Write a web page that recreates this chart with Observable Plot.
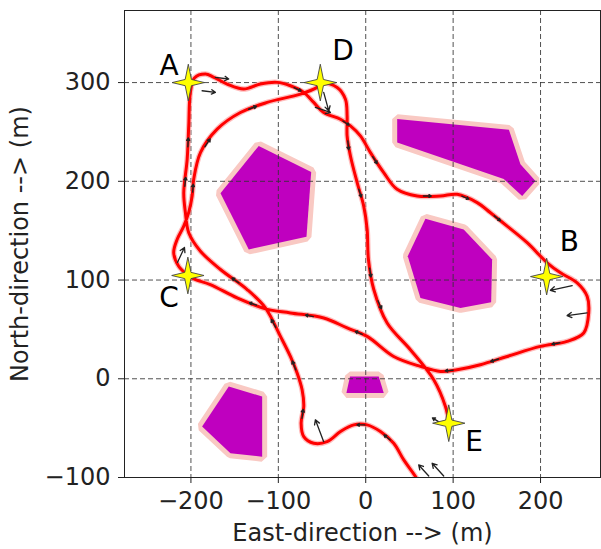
<!DOCTYPE html>
<html><head><meta charset="utf-8">
<script src="https://cdn.jsdelivr.net/npm/d3@7"></script>
<script src="https://cdn.jsdelivr.net/npm/@observablehq/plot@0.6"></script>
<style>body{margin:0;background:#fff;}</style>
</head><body><div id="chart"></div>
<script>
// ---- data ----
const xTicks = [-200, -100, 0, 100, 200];
const yTicks = [-100, 0, 100, 200, 300];
const xLabel = "East-direction --> (m)";
const yLabel = "North-direction --> (m)";

const obstacle1 = [[-122.4,235.8],[-62.4,209.4],[-67.8,143.9],[-133.8,131],[-166.2,187.8]];
const obstacle2 = [[36,263],[163.8,252.1],[177,217.3],[194.2,200.3],[179,185.1],[157.9,202.3],[36,239.3]];
const obstacle3 = [[68.3,162.1],[112.1,151.3],[144.6,120.8],[143.5,77.5],[108.4,71.8],[62.6,81.9],[48.1,124.2]];
const obstacle4 = [[-18,2.3],[14.9,2.3],[20.6,-14.5],[-22.1,-14.5]];
const obstacle5 = [[-156.7,-7.8],[-118.5,-18],[-118.5,-78.9],[-154.8,-75.4],[-187.2,-48.4]];

const pathX = [68.5,56.5,43.5,32.0,16.8,1.6,-13.7,-28.9,-44.2,-59.5,-70.9,-73.9,-70.9,-72.8,-78.5,-86.2,-97.6,-114.8,-135.7,-166.2,-189.1,-202.5,-206.3,-208.2,-204.3,-202.5,-200.6,-196.0,-183.4,-174.3,-158.6,-139.6,-120.5,-101.4,-86.2,-70.9,-59.5,-48.1,-28.9,-17.5,-6.1,5.4,20.6,35.9,58.8,85.5,104.6,127.5,142.7,161.8,184.7,207.6,222.8,241.9,253.3,255.1,249.4,230.4,199.9,161.8,131.2,104.6,85.5,62.6,32.0,1.6,-21.3,-48.1,-86.2,-114.8,-147.1,-177.8,-196.8,-204.3,-214.0,-219.7,-215.8,-208.2,-202.5,-198.6,-196.8,-189.1,-170.0,-143.4,-112.8,-74.7,-55.6,-49.5,-32.7,-23.2,-21.3,-21.3,-17.5,-9.8,-2.3,1.6,3.1,9.2,24.5,51.1,77.8,91.2,95.0];
const pathY = [-117.8,-98.5,-82.2,-65.3,-53.5,-46.7,-46.7,-53.5,-63.7,-65.3,-58.6,-45.0,-28.1,-11.2,5.8,22.6,42.9,71.8,90.4,110.7,129.2,147.9,168.2,188.5,222.3,256.1,290.1,304.6,308.6,305.6,298.5,293.4,298.5,300.2,296.8,290.1,279.9,269.7,262.9,256.1,246.0,229.1,208.8,191.9,185.1,185.1,186.8,178.4,168.2,154.6,137.8,117.5,107.3,97.2,83.6,66.7,46.4,37.9,32.8,22.6,14.2,9.1,7.4,12.5,22.6,42.9,51.5,61.6,66.7,70.8,81.9,95.4,101.2,105.6,114.0,127.6,141.1,154.6,168.5,185.1,202.0,229.1,252.8,269.7,279.9,288.3,295.1,299.5,295.1,283.2,266.3,246.0,225.7,198.7,174.9,151.3,120.8,90.4,56.5,29.4,-1.0,-28.1,-43.4];

const waypointNames = ["A", "B", "C", "D", "E"];
const waypointX = [-203, 207, -203.5, -52, 95];
const waypointY = [300, 103.5, 104.6, 300, -45];
const labelX = [-225, 233, -225, -26, 124];
const labelY = [317, 138, 82, 332, -64];

// big heading arrows: tail (x1,y1) -> head (x2,y2)
const bigX1 = [-172.0,-187.2,-48.1,-57.6,236.2,253.3,-48.1,72.1,89.2,85.5,-215.4];
const bigY1 = [305.3,291.7,290.1,274.8,94.4,66.7,-63.7,-98.5,-98.5,-44.7,117.8];
const bigX2 = [-156.8,-172.0,-42.3,-40.4,211.3,230.4,-57.6,60.6,76.0,76.3,-207.4];
const bigY2 = [303.6,290.1,271.4,269.7,89.6,64.0,-41.6,-87.3,-85.6,-39.6,133.0];

// small heading arrows along the track
const smallX1 = [-72.9,-80,-103,-145,-1,28,-207,-203.5,-82,-26,8,66,110,147,222,152,100,-4,-60,-125,-198,-184,-134,-20.5,-8,4.5,14];
const smallY1 = [-40,9,52,97,-46.7,-62,195,235,295,261,225,185.1,185,165,36.5,20,8.7,45,63,74.5,189,235,273,241,192,112,79];
const smallX2 = [-71.5,-84,-108,-153,-10,21,-206,-203,-74,-19,13,75,118,154,213,143,91,-12,-69,-133,-197.4,-178,-125,-19.5,-5,6,18];
const smallY2 = [-31,18,60,102,-46.7,-57,204,244,291.5,257,218,185.1,182,160,35,17.5,8,48,64.5,77,197,243,276,232,184,103,71];

// ---- build tables ----
const obstacles = [obstacle1, obstacle2, obstacle3, obstacle4, obstacle5];
const obsRows = obstacles.flatMap((poly, i) => poly.map(([x, y]) => ({id: i, x, y})));
const pathRows = pathX.map((x, i) => ({x, y: pathY[i]}));
const waypoints = waypointNames.map((name, i) => ({name, x: waypointX[i], y: waypointY[i], lx: labelX[i], ly: labelY[i]}));
const bigArrows = bigX1.map((x1, i) => ({x1, y1: bigY1[i], x2: bigX2[i], y2: bigY2[i]}));
const smallArrows = smallX1.map((x1, i) => ({x1, y1: smallY1[i], x2: smallX2[i], y2: smallY2[i]}));

const star4 = {
  draw(ctx, size) {
    const R = Math.sqrt(size / Math.PI);
    const rx = R * 0.95, ry = R * 1.08, ri = R * 0.26;
    const pts = [];
    for (let k = 0; k < 8; k++) {
      const a = -Math.PI / 2 + k * Math.PI / 4;
      const outer = k % 2 === 0;
      pts.push(outer ? [rx * Math.cos(a), ry * Math.sin(a)] : [ri * Math.cos(a), ri * Math.sin(a)]);
    }
    ctx.moveTo(pts[0][0], pts[0][1]);
    for (let k = 1; k < 8; k++) ctx.lineTo(pts[k][0], pts[k][1]);
    ctx.closePath();
  }
};

const chart = Plot.plot({
  width: 601,
  height: 549,
  marginLeft: 124,
  marginRight: 1,
  marginTop: 10,
  marginBottom: 72,
  x: {domain: [-276, 268.6]},
  y: {domain: [-100, 373]},
  style: {fontFamily: "DejaVu Sans", fontSize: "24px", color: "#222", background: "#fff", overflow: "visible"},
  marks: [
    Plot.line(obsRows, {x: "x", y: "y", z: "id", curve: "linear-closed", fill: "#f9c9c3", stroke: "#f9c9c3", strokeWidth: 10, strokeLinejoin: "miter"}),
    Plot.line(obsRows, {x: "x", y: "y", z: "id", curve: "linear-closed", fill: "#bf00bf", stroke: "none"}),
    Plot.gridX(xTicks, {stroke: "#333", strokeOpacity: 0.85, strokeDasharray: "5,3", strokeWidth: 1}),
    Plot.gridY(yTicks, {stroke: "#333", strokeOpacity: 0.85, strokeDasharray: "5,3", strokeWidth: 1}),
    Plot.line(pathRows, {x: "x", y: "y", curve: "catmull-rom", stroke: "#ff8f8f", strokeOpacity: 0.6, strokeWidth: 5.5, clip: true}),
    Plot.line(pathRows, {x: "x", y: "y", curve: "catmull-rom", stroke: "#ff0000", strokeWidth: 3, clip: true}),
    Plot.arrow(smallArrows, {x1: "x1", y1: "y1", x2: "x2", y2: "y2", stroke: "#222", strokeWidth: 1.4, headLength: 4, clip: true}),
    Plot.arrow(bigArrows, {x1: "x1", y1: "y1", x2: "x2", y2: "y2", stroke: "#222", strokeWidth: 1.3, headLength: 6, clip: true}),
    Plot.dot(waypoints, {x: "x", y: "y", symbol: star4, r: 17, fill: "#ffff00", stroke: "#444", strokeWidth: 0.9}),
    Plot.text(waypoints, {x: "lx", y: "ly", text: "name", fontSize: 28, fill: "#000"}),
    Plot.axisX(xTicks, {tickSize: 6, tickPadding: 8, label: null, fontSize: 24}),
    Plot.axisY(yTicks, {tickSize: 6, tickPadding: 8, label: null, fontSize: 24}),
    Plot.frame({stroke: "#222"}),
    Plot.text([xLabel], {text: d => d, frameAnchor: "bottom", dy: 56, textAnchor: "middle", lineAnchor: "middle", fontSize: 24}),
    Plot.text([yLabel], {text: d => d, frameAnchor: "left", dx: -104, rotate: -90, textAnchor: "middle", lineAnchor: "middle", fontSize: 24})
  ]
});
document.getElementById("chart").appendChild(chart);
</script>
</body></html>
